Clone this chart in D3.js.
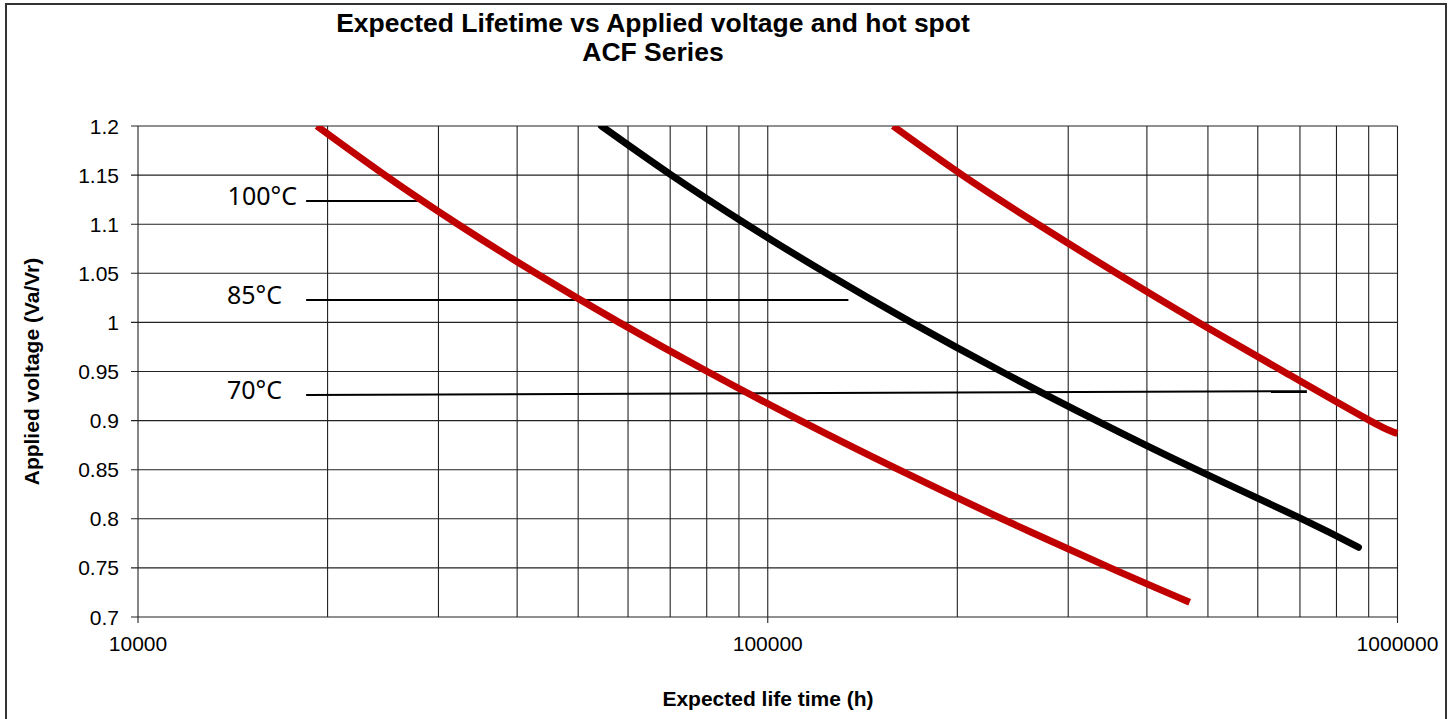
<!DOCTYPE html>
<html>
<head>
<meta charset="utf-8">
<script src="https://cdn.jsdelivr.net/npm/d3@7"></script>
<style>
  body { margin: 0; background: #fff; }
  svg { display: block; }
</style>
</head>
<body>
<div id="wrapper"></div>
<script>
// curve data (hours, Va/Vr)
const hours100 = [19230, 24660, 32210, 42850, 58070, 80170, 112700, 161400, 235500, 349900, 467700];
const volts100 = [1.2, 1.15, 1.1, 1.05, 1.0, 0.95, 0.9, 0.85, 0.8, 0.75, 0.715];

const hours85 = [54450, 70310, 92470, 123900, 169000, 235000, 332700, 479700, 704700, 867000];
const volts85 = [1.2, 1.15, 1.1, 1.05, 1.0, 0.95, 0.9, 0.85, 0.8, 0.771];

const hours70 = [158100, 203700, 268500, 358100, 483100, 659200, 903600, 1000000];
const volts70 = [1.2, 1.15, 1.1, 1.05, 1.0, 0.95, 0.9, 0.887];

// temperature markers
const markerNames = ["100°C", "85°C", "70°C"];
const markerStartHours = [18490, 18490, 18490];
const markerEndHours = [27850, 134300, 718000];
const markerStartVolts = [1.1236, 1.0228, 0.926];
const markerEndVolts = [1.1236, 1.0228, 0.930];
const markerLabelRight = [297, 282, 282];

const yTicks = [1.2, 1.15, 1.1, 1.05, 1, 0.95, 0.9, 0.85, 0.8, 0.75, 0.7];
const xTicks = [10000, 100000, 1000000];

const titleLines = ["Expected Lifetime vs Applied voltage and hot spot", "ACF Series"];
const xTitle = "Expected life time (h)";
const yTitle = "Applied voltage (Va/Vr)";

function buildPlot() {
    var dimension = {
        width: 1453,
        height: 719,
        margin: { top: 126, left: 138, bottom: 102, right: 55.5 }
    };
    dimension.boundedWidth = dimension.width - dimension.margin.left - dimension.margin.right;
    dimension.boundedHeight = dimension.height - dimension.margin.top - dimension.margin.bottom;

    const svg = d3.select("#wrapper").append("svg")
        .attr("width", dimension.width)
        .attr("height", dimension.height);

    // outer frame
    svg.append("rect")
        .attr("x", 6).attr("y", 4)
        .attr("width", 1440).attr("height", 730)
        .attr("fill", "none")
        .attr("stroke", "#333")
        .attr("stroke-width", 2);

    const x = d3.scaleLog()
        .domain([1e4, 1e6])
        .range([dimension.margin.left, dimension.margin.left + dimension.boundedWidth]);
    const y = d3.scaleLinear()
        .domain([0.7, 1.2])
        .range([dimension.margin.top + dimension.boundedHeight, dimension.margin.top]);

    const grid = svg.append("g").attr("stroke", "#222").attr("stroke-width", 1.1);

    // horizontal grid
    grid.selectAll(".hg").data(yTicks).join("line")
        .attr("x1", x(1e4) - 7).attr("x2", x(1e6))
        .attr("y1", d => y(d)).attr("y2", d => y(d));

    // vertical grid (1,2,...9 per decade)
    grid.selectAll(".vg").data(x.ticks()).join("line")
        .attr("x1", d => x(d)).attr("x2", d => x(d))
        .attr("y1", y(1.2))
        .attr("y2", d => xTicks.includes(d) ? y(0.7) + 6 : y(0.7));

    // tick labels
    svg.append("g").selectAll("text").data(yTicks).join("text")
        .attr("x", x(1e4) - 19)
        .attr("y", d => y(d))
        .attr("dy", "0.36em")
        .attr("text-anchor", "end")
        .style("font", "21px 'Liberation Sans', Arial, sans-serif")
        .text(d => String(d));

    svg.append("g").selectAll("text").data(xTicks).join("text")
        .attr("x", d => x(d))
        .attr("y", 651)
        .attr("text-anchor", "middle")
        .style("font", "21px 'Liberation Sans', Arial, sans-serif")
        .text(d => String(d));

    // marker lines + labels
    const markers = svg.append("g");
    markerNames.forEach((name, i) => {
        markers.append("line")
            .attr("x1", x(markerStartHours[i])).attr("y1", y(markerStartVolts[i]))
            .attr("x2", x(markerEndHours[i])).attr("y2", y(markerEndVolts[i]))
            .attr("stroke", "#000").attr("stroke-width", 2);
        markers.append("text")
            .attr("x", markerLabelRight[i])
            .attr("y", y(markerStartVolts[i]) + 4)
            .attr("text-anchor", "end")
            .style("font", "25px 'Noto Sans', sans-serif")
            .text(name);
    });

    // curves, clipped to plot area
    svg.append("clipPath").attr("id", "plotclip")
        .append("rect")
        .attr("x", x(1e4)).attr("y", y(1.2))
        .attr("width", dimension.boundedWidth + 3)
        .attr("height", dimension.boundedHeight + 10);

    const line = d3.line()
        .x(d => x(d[0]))
        .y(d => y(d[1]))
        .curve(d3.curveNatural);

    const curves = svg.append("g").attr("clip-path", "url(#plotclip)");
    curves.append("path")
        .attr("d", line(d3.zip(hours100, volts100)))
        .attr("fill", "none").attr("stroke", "#c00000").attr("stroke-width", 7);
    curves.append("path")
        .attr("d", line(d3.zip(hours85, volts85)))
        .attr("fill", "none").attr("stroke", "#000").attr("stroke-width", 7)
        .attr("stroke-linecap", "round");
    curves.append("path")
        .attr("d", line(d3.zip(hours70, volts70)))
        .attr("fill", "none").attr("stroke", "#c00000").attr("stroke-width", 7);

    // titles
    svg.append("text")
        .attr("x", 653).attr("y", 32)
        .attr("text-anchor", "middle")
        .style("font", "bold 26.5px 'Liberation Sans', Arial, sans-serif")
        .text(titleLines[0]);
    svg.append("text")
        .attr("x", 653).attr("y", 61)
        .attr("text-anchor", "middle")
        .style("font", "bold 26.5px 'Liberation Sans', Arial, sans-serif")
        .text(titleLines[1]);

    svg.append("text")
        .attr("x", 768).attr("y", 706)
        .attr("text-anchor", "middle")
        .style("font", "bold 21px 'Liberation Sans', Arial, sans-serif")
        .text(xTitle);

    svg.append("text")
        .attr("transform", `translate(39, ${y(0.95)}) rotate(-90)`)
        .attr("text-anchor", "middle")
        .style("font", "bold 21px 'Liberation Sans', Arial, sans-serif")
        .text(yTitle);
}

buildPlot();
</script>
</body>
</html>
